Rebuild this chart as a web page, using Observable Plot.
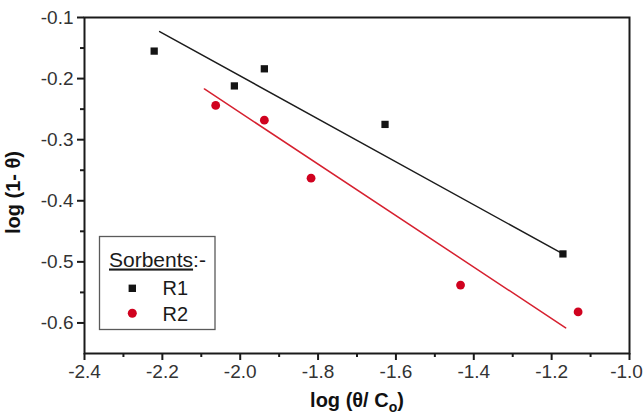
<!DOCTYPE html>
<html><head><meta charset="utf-8">
<script src="https://cdn.jsdelivr.net/npm/d3@7"></script>
<script src="https://cdn.jsdelivr.net/npm/@observablehq/plot@0.6"></script>
<style>
body{margin:0;background:#fff;}
#chart{position:relative;width:643px;height:416px;}
</style></head><body><div id="chart"></div>
<script>
// Series R1 (squares)
const r1X = [-2.221, -2.015, -1.938, -1.628, -1.171];
const r1Y = [-0.155, -0.212, -0.184, -0.275, -0.487];
// Series R2 (circles)
const r2X = [-2.063, -1.938, -1.818, -1.434, -1.132];
const r2Y = [-0.244, -0.268, -0.363, -0.538, -0.582];
// Fitted lines (end points)
const fitR1X = [-2.207, -1.171];
const fitR1Y = [-0.123, -0.487];
const fitR2X = [-2.092, -1.164];
const fitR2Y = [-0.217, -0.608];
// Ticks
const xTicks = [-2.4, -2.2, -2.0, -1.8, -1.6, -1.4, -1.2, -1.0];
const xMinorTicks = [-2.3, -2.1, -1.9, -1.7, -1.5, -1.3, -1.1];
const yTicks = [-0.6, -0.5, -0.4, -0.3, -0.2, -0.1];
const yMinorTicks = [-0.55, -0.45, -0.35, -0.25, -0.15];
// Texts
const xLabelMain = "log (θ/ C";
const xLabelSub = "o";
const xLabelEnd = ")";
const yLabel = "log (1- θ)";
const legendTitle = "Sorbents";
const legendTitleSuffix = ":-";
const seriesNames = ["R1", "R2"];
const seriesColors = ["#141414", "#d0021f"];
const lineColors = ["#1c1c1c", "#d6202f"];

const toPts = (xs, ys) => xs.map((x, i) => ({x, y: ys[i]}));
const r1 = toPts(r1X, r1Y), r2 = toPts(r2X, r2Y);
const f1 = toPts(fitR1X, fitR1Y), f2 = toPts(fitR2X, fitR2Y);
const fmt = d => d.toFixed(1);
const xLabelFull = xLabelMain + xLabelSub + xLabelEnd;
const FONT = "'Liberation Sans', Arial, sans-serif";

const plot = Plot.plot({
  width: 643, height: 416,
  marginLeft: 84, marginRight: 14, marginTop: 17, marginBottom: 63,
  style: {fontFamily: FONT, background: "white", color: "#1a1a1a"},
  x: {domain: [-2.4, -1.0]},
  y: {domain: [-0.65, -0.1]},
  marks: [
    Plot.axisX(xTicks, {tickSize: 7, tickPadding: 3.5, tickFormat: fmt, fontSize: 19, fill: "#333", strokeWidth: 2, label: null}),
    Plot.axisX(xMinorTicks, {tickSize: 4, tickFormat: () => "", strokeWidth: 2, label: null}),
    Plot.axisY(yTicks, {tickSize: 7, tickPadding: 4, tickFormat: fmt, fontSize: 19, fill: "#333", strokeWidth: 2, label: null}),
    Plot.axisY(yMinorTicks, {tickSize: 4, tickFormat: () => "", strokeWidth: 2, label: null}),
    Plot.frame({stroke: "#1a1a1a", strokeWidth: 2}),
    Plot.line(f1, {x: "x", y: "y", stroke: lineColors[0], strokeWidth: 1.5}),
    Plot.line(f2, {x: "x", y: "y", stroke: lineColors[1], strokeWidth: 1.5}),
    Plot.dot(r1, {x: "x", y: "y", symbol: "square", r: 4.1, fill: seriesColors[0], stroke: null}),
    Plot.dot(r2, {x: "x", y: "y", symbol: "circle", r: 4.4, fill: seriesColors[1], stroke: null}),
    Plot.text([yLabel], {text: d => d, frameAnchor: "left", textAnchor: "middle", lineAnchor: "middle", rotate: -90, dx: -71, dy: 7, fontSize: 20, fontWeight: "bold", fill: "#111"}),
    Plot.text([xLabelFull], {text: d => d, frameAnchor: "bottom", textAnchor: "middle", lineAnchor: "middle", dy: 47.5, fontSize: 20, fontWeight: "bold", fill: "#111"})
  ]
});
document.getElementById("chart").appendChild(plot);

const svg = d3.select(plot);
// Subscript in x label; keep last x tick label inside the picture
const lastX = fmt(xTicks[xTicks.length - 1]);
svg.selectAll("text").each(function() {
  if (this.textContent === xLabelFull) {
    const t = d3.select(this);
    t.text(null);
    t.append("tspan").text(xLabelMain);
    t.append("tspan").attr("dy", 5).attr("font-size", 14).text(xLabelSub);
    t.append("tspan").attr("dy", -5).text(xLabelEnd);
  } else if (this.textContent === lastX) {
    d3.select(this).attr("dx", -3);
  }
});

// Legend box inside the plot
const lg = svg.append("g").attr("font-family", FONT).attr("fill", "#1a1a1a").attr("text-anchor", "start");
lg.append("rect").attr("x", 99.5).attr("y", 236.5).attr("width", 115.5).attr("height", 93)
  .attr("fill", "white").attr("stroke", "#5a5a5a").attr("stroke-width", 1.3);
const title = lg.append("text").attr("x", 109).attr("y", 266.5).attr("font-size", 21);
title.append("tspan").attr("text-decoration", "underline").text(legendTitle);
title.append("tspan").text(legendTitleSuffix);
lg.append("rect").attr("x", 132.3 - 3.7).attr("y", 288.3 - 3.7).attr("width", 7.4).attr("height", 7.4).attr("fill", seriesColors[0]);
lg.append("circle").attr("cx", 132.3).attr("cy", 313.3).attr("r", 4.5).attr("fill", seriesColors[1]);
lg.append("text").attr("x", 162.5).attr("y", 295).attr("font-size", 20).text(seriesNames[0]);
lg.append("text").attr("x", 162.5).attr("y", 320.5).attr("font-size", 20).text(seriesNames[1]);
</script>
</body></html>
